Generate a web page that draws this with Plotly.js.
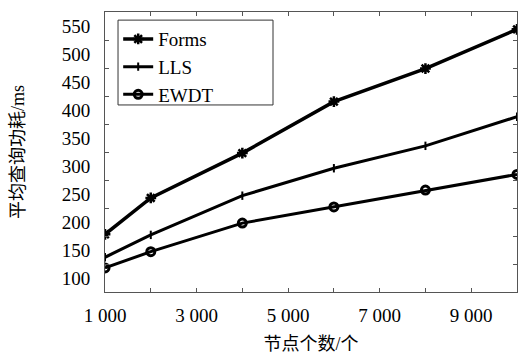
<!DOCTYPE html>
<html>
<head>
<meta charset="utf-8">
<script src="https://cdn.plot.ly/plotly-3.0.1.min.js"></script>
<style>html,body{margin:0;padding:0;background:#fff;}#chart{width:518px;height:358px;}</style>
</head>
<body>
<div id="chart"></div>
<script>
const nodes = [1000, 2000, 4000, 6000, 8000, 10000];
const forms = [153, 218, 298, 390, 449, 519];
const lls = [112, 152, 222, 271, 311, 363];
const ewdt = [93, 122, 173, 202, 232, 260];
const xTickVals = [1000, 2000, 3000, 4000, 5000, 6000, 7000, 8000, 9000, 10000];
const xTickText = ['1 000', '', '3 000', '', '5 000', '', '7 000', '', '9 000', ''];
const yTickVals = [100, 150, 200, 250, 300, 350, 400, 450, 500, 550];
const seriesNames = ['Forms', 'LLS', 'EWDT'];

const serif = 'Liberation Serif, Times New Roman, serif';
const cjk = 'Liberation Serif, Noto Sans CJK SC, serif';

const traces = [
  {x: nodes, y: forms, name: seriesNames[0], mode: 'lines+markers',
   line: {color: '#000', width: 3.5},
   marker: {symbol: 'asterisk-open', size: 9, color: '#000', line: {color: '#000', width: 2.5}}},
  {x: nodes, y: lls, name: seriesNames[1], mode: 'lines+markers',
   line: {color: '#000', width: 3},
   marker: {symbol: 'line-ns-open', size: 6, color: '#000', line: {color: '#000', width: 2}}},
  {x: nodes, y: ewdt, name: seriesNames[2], mode: 'lines+markers',
   line: {color: '#000', width: 3},
   marker: {symbol: 'circle-open', size: 8, color: '#000', line: {color: '#000', width: 3}}}
];

const layout = {
  width: 518, height: 358,
  margin: {l: 105, r: 1, t: 12, b: 66},
  paper_bgcolor: '#fff', plot_bgcolor: '#fff',
  font: {family: serif, size: 19, color: '#000'},
  showlegend: true,
  legend: {x: 0.032, y: 0.971, xanchor: 'left', yanchor: 'top',
           bgcolor: 'rgba(0,0,0,0)', borderwidth: 0,
           font: {family: serif, size: 19, color: '#000'},
           tracegroupgap: 0},
  shapes: [
    {type: 'rect', xref: 'paper', yref: 'paper', layer: 'above',
     x0: 0.0316, x1: 0.4078, y0: 0.668, y1: 0.971,
     line: {color: '#333', width: 1}, fillcolor: 'rgba(0,0,0,0)'}
  ],
  xaxis: {
    range: [1000, 10000], tickmode: 'array', tickvals: xTickVals, ticktext: xTickText,
    ticks: 'inside', ticklen: 4, tickcolor: '#555', tickwidth: 1,
    showline: true, linecolor: '#555', linewidth: 1, mirror: 'ticks',
    showgrid: false, zeroline: false,
    tickfont: {family: serif, size: 19, color: '#000'},
    ticklabelstandoff: 6,
    title: {text: '节点个数/个', font: {family: cjk, size: 18, color: '#000'}, standoff: 12}
  },
  yaxis: {
    range: [50, 550], tickmode: 'array', tickvals: yTickVals,
    ticks: 'inside', ticklen: 4, tickcolor: '#555', tickwidth: 1,
    showline: true, linecolor: '#555', linewidth: 1, mirror: 'ticks',
    showgrid: false, zeroline: false,
    tickfont: {family: serif, size: 19, color: '#000'},
    ticklabelshift: 14, ticklabelstandoff: 10,
    title: {text: '平均查询功耗/ms', font: {family: cjk, size: 18, color: '#000'}, standoff: 32}
  }
};

Plotly.newPlot('chart', traces, layout, {displayModeBar: false, staticPlot: true});
</script>
</body>
</html>
